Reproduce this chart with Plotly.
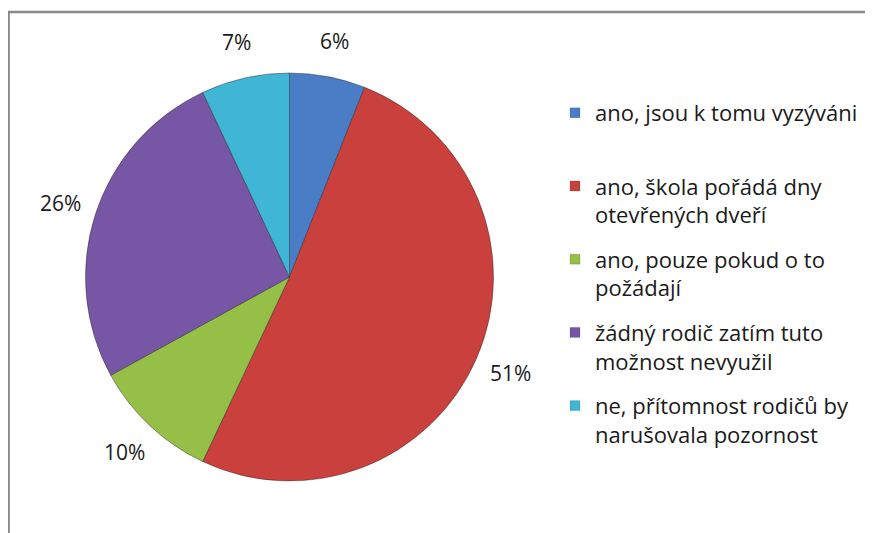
import math
import plotly.graph_objects as go

# ---- data ----
categories = [
    "ano, jsou k tomu vyzýváni",
    "ano, škola pořádá dny<br>otevřených dveří",
    "ano, pouze pokud o to<br>požádají",
    "žádný rodič zatím tuto<br>možnost nevyužil",
    "ne, přítomnost rodičů by<br>narušovala pozornost",
]
values = [6, 51, 10, 26, 7]
colors = ["#4A7DC6", "#C9403D", "#95BF47", "#7756A6", "#3FB6D6"]

# ---- layout constants (pixels, in figure coordinates) ----
W, H = 873, 533
OFF = 8                      # page body margin offset
CX, CY, R = 289.5 - OFF, 277 - OFF, 204
LABEL_K = 1.18
FONT = "Open Sans"
FS = 22
TXT = "#1a1a1a"

fig = go.Figure()

fig.add_trace(go.Pie(
    labels=[c.replace("<br>", " ") for c in categories],
    values=values,
    sort=False,
    direction="clockwise",
    rotation=0,
    marker=dict(colors=colors, line=dict(color="rgba(40,40,40,0.45)", width=1)),
    textinfo="none",
    hoverinfo="label+percent",
    showlegend=False,
    domain=dict(x=[(CX - R) / W, (CX + R) / W], y=[1 - (CY + R) / H, 1 - (CY - R) / H]),
))

# legend entries (one per slice) so that item spacing can be controlled
for i, (name, col) in enumerate(zip(categories, colors)):
    label = name if "<br>" in name else name + "<br>\u00a0"
    fig.add_trace(go.Scatter(
        x=[None], y=[None], mode="markers", name=label,
        marker=dict(symbol="square", size=10, color=col,
                    line=dict(color="rgba(0,0,0,0.25)", width=0.5)),
        legendgroup=f"g{i}", showlegend=True, hoverinfo="skip",
    ))

# percentage labels placed outside each slice at its mid-angle
total = sum(values)
cum = 0
annotations = []
for v in values:
    mid = (cum + v / 2) / total * 2 * math.pi
    cum += v
    px = CX + LABEL_K * R * math.sin(mid)
    py = CY - LABEL_K * R * math.cos(mid)
    annotations.append(dict(
        x=px / W, y=1 - py / H, xref="paper", yref="paper",
        text=f"{round(v / total * 100)}%", showarrow=False,
        font=dict(family=FONT, size=21, color=TXT),
        xanchor="center", yanchor="middle",
    ))

fig.update_layout(
    width=W, height=H,
    margin=dict(l=0, r=0, t=0, b=0),
    paper_bgcolor="white",
    plot_bgcolor="white",
    xaxis=dict(visible=False),
    yaxis=dict(visible=False),
    annotations=annotations,
    showlegend=True,
    legend=dict(
        x=(595 - OFF - 40) / W, y=1 - (113 - OFF - 21) / H,
        xanchor="left", yanchor="top",
        font=dict(family=FONT, size=FS, color=TXT),
        valign="top",
        tracegroupgap=13,
        traceorder="grouped",
        bgcolor="rgba(0,0,0,0)",
        itemclick=False, itemdoubleclick=False,
    ),
    shapes=[dict(
        type="rect", xref="paper", yref="paper",
        x0=0.6 / W, x1=1.05, y0=-0.05, y1=1 - (12 - OFF) / H,
        line=dict(color="#888888", width=2.5), layer="below",
    )],
)

fig.write_html("out.html")
